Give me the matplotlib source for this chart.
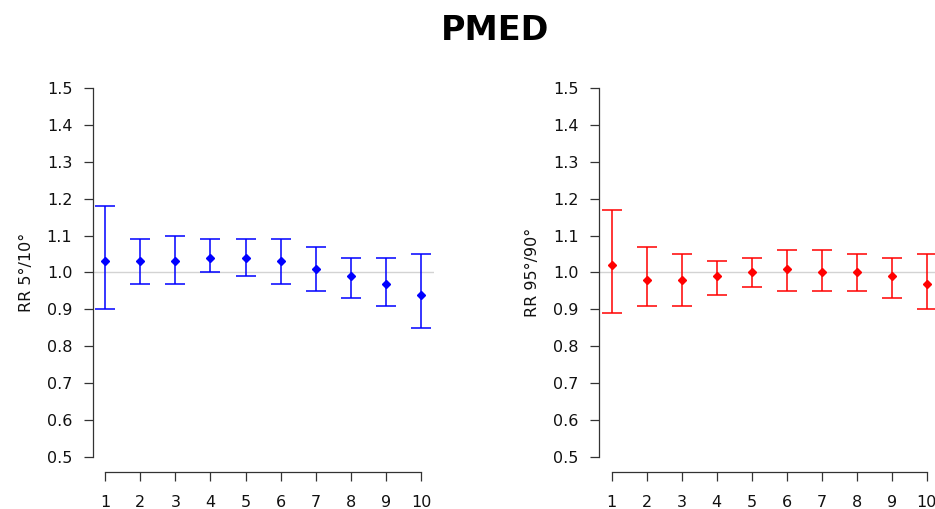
import matplotlib
matplotlib.use("Agg")
import matplotlib.pyplot as plt

lags = [1, 2, 3, 4, 5, 6, 7, 8, 9, 10]

cold_rr = [1.03, 1.03, 1.03, 1.04, 1.04, 1.03, 1.01, 0.99, 0.97, 0.94]
cold_lo = [0.90, 0.97, 0.97, 1.00, 0.99, 0.97, 0.95, 0.93, 0.91, 0.85]
cold_hi = [1.18, 1.09, 1.10, 1.09, 1.09, 1.09, 1.07, 1.04, 1.04, 1.05]

hot_rr = [1.02, 0.98, 0.98, 0.99, 1.00, 1.01, 1.00, 1.00, 0.99, 0.97]
hot_lo = [0.89, 0.91, 0.91, 0.94, 0.96, 0.95, 0.95, 0.95, 0.93, 0.90]
hot_hi = [1.17, 1.07, 1.05, 1.03, 1.04, 1.06, 1.06, 1.05, 1.04, 1.05]

yticks = [0.5, 0.6, 0.7, 0.8, 0.9, 1.0, 1.1, 1.2, 1.3, 1.4, 1.5]
ytick_labels = ["0.5", "0.6", "0.7", "0.8", "0.9", "1.0", "1.1", "1.2", "1.3", "1.4", "1.5"]

title = "PMED"
ylabels = ["RR 5°/10°", "RR 95°/90°"]

plt.rcParams['font.family'] = ['DejaVu Sans']

fig = plt.figure(figsize=(9.35, 5.09), dpi=100)

W, H = 935, 509
panels = [
    (cold_rr, cold_lo, cold_hi, "#0000FF", 92.5, 341.3, ylabels[0], 27),
    (hot_rr, hot_lo, hot_hi, "#FF0000", 599.0, 340.2, ylabels[1], 532),
]

for rr, lo, hi, col, left_px, width_px, ylab, ylab_x in panels:
    ax = fig.add_axes([left_px / W, (H - 471.7) / H, width_px / W, 398.5 / H])
    ax.set_xlim(0.64, 10.36)
    ax.set_ylim(0.46, 1.54)
    ax.axhline(1.0, color="#D3D3D3", lw=1.0, zorder=1)
    yerr = [[r - l for r, l in zip(rr, lo)], [h - r for r, h in zip(rr, hi)]]
    ax.errorbar(lags, rr, yerr=yerr, fmt='D', color=col, ecolor=col,
                ms=4, elinewidth=1.1, capsize=7.2, capthick=1.1, zorder=3)
    for s in ['top', 'right']:
        ax.spines[s].set_visible(False)
    ax.spines['left'].set_bounds(0.5, 1.5)
    ax.spines['bottom'].set_bounds(1, 10)
    for s in ['left', 'bottom']:
        ax.spines[s].set_color('#333333')
        ax.spines[s].set_linewidth(0.9)
    ax.set_yticks(yticks)
    ax.set_yticklabels(ytick_labels)
    ax.set_xticks(lags)
    ax.set_xticklabels([str(v) for v in lags])
    ax.tick_params(axis='both', direction='out', length=6.5, width=0.9,
                   color='#333333', labelsize=11.5, labelcolor='#111111')
    ax.tick_params(axis='y', pad=8)
    ax.tick_params(axis='x', pad=10)
    fig.text(ylab_x / W, (H - 272) / H, ylab, rotation=90, ha='center',
             va='center', fontsize=11.5, color='#111111')

fig.text(495 / W, 1 - 39.5 / H, title, ha='center', va='baseline',
         fontsize=24, fontweight='bold')

fig.savefig("out.png", dpi=100)
